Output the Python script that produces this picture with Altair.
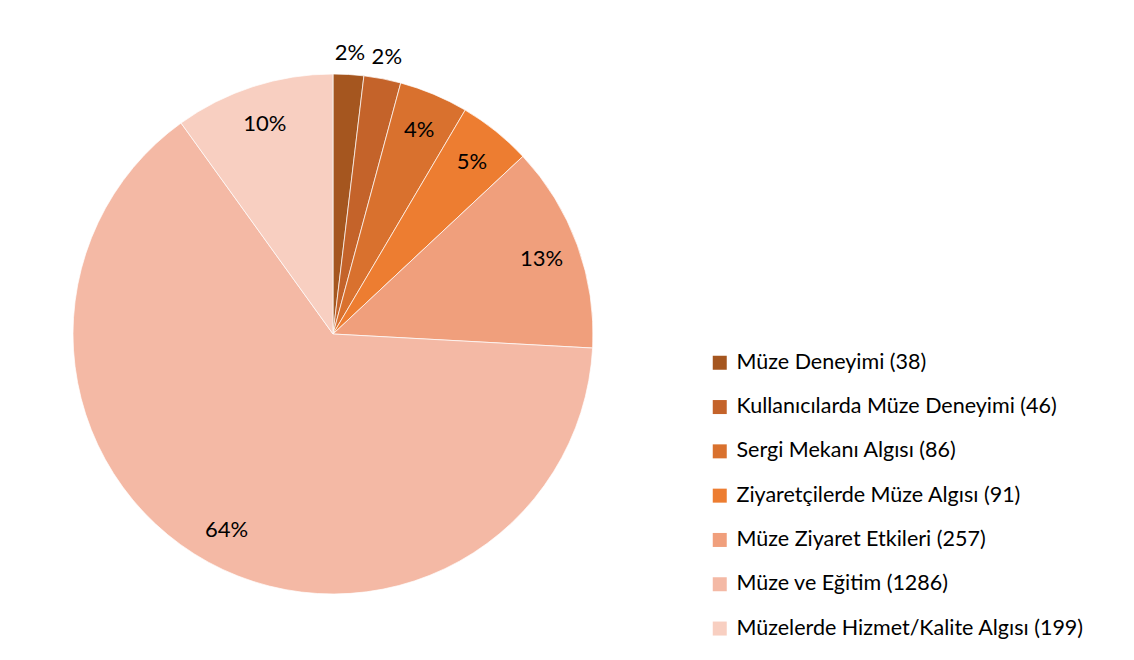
import altair as alt
import pandas as pd

categories = [
    "Müze Deneyimi (38)",
    "Kullanıcılarda Müze Deneyimi (46)",
    "Sergi Mekanı Algısı (86)",
    "Ziyaretçilerde Müze Algısı (91)",
    "Müze Ziyaret Etkileri (257)",
    "Müze ve Eğitim (1286)",
    "Müzelerde Hizmet/Kalite Algısı (199)",
]
values = [38, 46, 86, 91, 257, 1286, 199]
colors = ["#A5561F", "#C4632A", "#D9712E", "#ED7D31", "#F09F7C", "#F4B9A5", "#F8CFC1"]

df = pd.DataFrame({"category": categories, "value": values, "idx": list(range(len(values)))})

FONT = "Lato"

pie = alt.Chart(df).mark_arc(outerRadius=260, stroke="white", strokeWidth=0.7).encode(
    theta=alt.Theta("value:Q", stack=True),
    order=alt.Order("idx:Q", sort="ascending"),
    color=alt.Color(
        "category:N",
        scale=alt.Scale(domain=categories, range=colors),
        sort=categories,
        legend=alt.Legend(
            title=None,
            orient="none",
            legendX=701,
            legendY=344,
            symbolType="square",
            symbolSize=196,
            symbolStrokeWidth=0,
            labelFontSize=21.5,
            labelFont=FONT,
            labelColor="black",
            labelLimit=600,
            labelOffset=6,
            rowPadding=21.3,
            padding=0,
        ),
    ),
    x=alt.value(325),
    y=alt.value(326),
)

labels = (
    alt.Chart(df)
    .transform_joinaggregate(total="sum(value)")
    .transform_window(cum="sum(value)", sort=[alt.SortField("idx", order="ascending")])
    .transform_calculate(
        pct="datum.value / datum.total",
        ang="2 * PI * (datum.cum - datum.value / 2) / datum.total",
        lr="datum.value / datum.total < 0.03 ? 283 : 222",
    )
    .mark_text(font=FONT, fontSize=22, color="black")
    .encode(
        theta=alt.Theta("ang:Q", scale=None),
        radius=alt.Radius("lr:Q", scale=None),
        text=alt.Text("pct:Q", format=".0%"),
        x=alt.value(325),
        y=alt.value(327),
    )
)

chart = (
    alt.layer(pie, labels)
    .properties(width=1118, height=644, padding=0, autosize="none")
    .configure_view(stroke=None)
)

chart.save("out.html", embed_options={"renderer": "svg", "actions": False})
